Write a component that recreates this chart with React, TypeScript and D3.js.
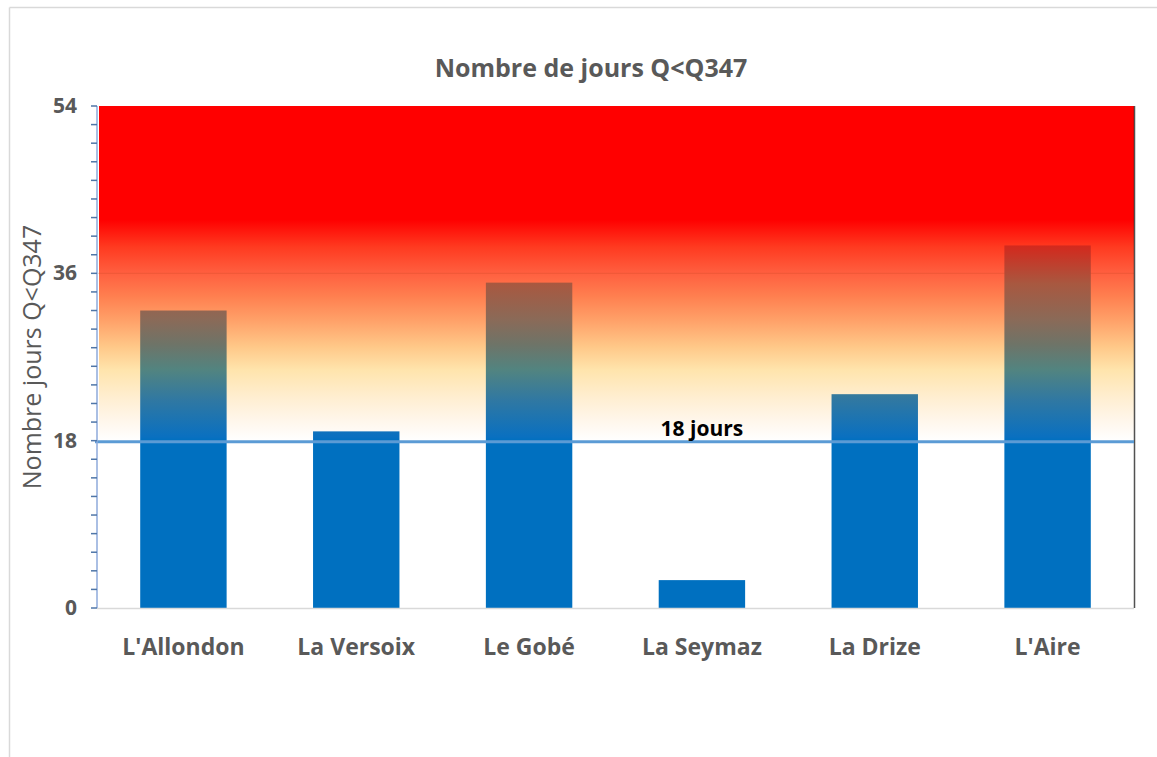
import React from "react";
import * as d3 from "d3";

const categories = ["L'Allondon", "La Versoix", "Le Gobé", "La Seymaz", "La Drize", "L'Aire"];
const values = [32, 19, 35, 3, 23, 39];
const yTicks = [0, 18, 36, 54];
const limitValue = 18;
const limitLabel = "18 jours";
const limitLabelIndex = 3;
const title = "Nombre de jours Q<Q347";
const yTitle = "Nombre jours Q<Q347";

// gradient stops (offset from 54 -> 18)
const bgStops: [number, string][] = [
  [0, "#FF0000"],
  [0.34, "#FF0000"],
  [0.421, "#FF3A20"],
  [0.501, "#FF6040"],
  [0.57, "#FF8050"],
  [0.639, "#FFA068"],
  [0.719, "#FFC888"],
  [0.788, "#FFE4AC"],
  [0.869, "#FFEED0"],
  [0.937, "#FFF6EA"],
  [1, "#FFFFFF"],
];
const barStops: [number, string][] = [
  [0, "#FF0000"],
  [0.3, "#EE1010"],
  [0.421, "#D22A1E"],
  [0.531, "#A85840"],
  [0.639, "#8A6A58"],
  [0.713, "#6E7468"],
  [0.788, "#528480"],
  [0.878, "#3078A2"],
  [0.988, "#0A70C0"],
  [1, "#0070C0"],
];

const W = 1157;
const H = 757;
const left = 97;
const right = 1134;
const top = 106;
const bottom = 608;

export default function App() {
  const x = d3
    .scaleBand<string>()
    .domain(categories)
    .range([left, right])
    .paddingInner(0.5)
    .paddingOuter(0.25);
  const y = d3.scaleLinear().domain([0, 54]).range([bottom, top]);
  const minor = d3.range(0, 55, 2);
  const font = "'Open Sans', 'DejaVu Sans', sans-serif";
  const grey = "#595959";

  return (
    <svg
      width={W}
      height={H}
      style={{ position: "absolute", left: 0, top: 0, background: "#fff" }}
      fontFamily={font}
    >
      <defs>
        <linearGradient id="bg" gradientUnits="userSpaceOnUse" x1={0} x2={0} y1={y(54)} y2={y(limitValue)}>
          {bgStops.map(([o, c], i) => (
            <stop key={i} offset={o} stopColor={c} />
          ))}
        </linearGradient>
        <linearGradient id="bar" gradientUnits="userSpaceOnUse" x1={0} x2={0} y1={y(54)} y2={y(limitValue)}>
          {barStops.map(([o, c], i) => (
            <stop key={i} offset={o} stopColor={c} />
          ))}
        </linearGradient>
      </defs>
      {/* frame */}
      <line x1={9.5} x2={W} y1={7.5} y2={7.5} stroke="#D9D9D9" strokeWidth={1.5} />
      <line x1={9.5} x2={9.5} y1={7.5} y2={H} stroke="#D9D9D9" strokeWidth={1.5} />

      {/* title */}
      <text x={591} y={77} textAnchor="middle" fontSize={25} fontWeight="bold" fill={grey}>
        {title}
      </text>

      {/* background zone */}
      <rect x={left + 2} y={y(54)} width={right - left - 2} height={y(limitValue) - y(54)} fill="url(#bg)" />
      {/* gridline at 36 */}
      <line x1={left} x2={right} y1={y(36)} y2={y(36)} stroke="#C04020" strokeOpacity={0.25} strokeWidth={1} />

      {/* bars */}
      {values.map((v, i) => (
        <rect
          key={categories[i]}
          x={x(categories[i])}
          y={y(v)}
          width={x.bandwidth()}
          height={y(0) - y(v)}
          fill="url(#bar)"
        />
      ))}

      {/* x axis line */}
      <line x1={left} x2={right} y1={bottom + 0.5} y2={bottom + 0.5} stroke="#D9D9D9" strokeWidth={1.5} />
      {/* right edge */}
      <line x1={right + 0.5} x2={right + 0.5} y1={top} y2={bottom} stroke="#262626" strokeOpacity={0.8} strokeWidth={1.5} />

      {/* limit line */}
      <line x1={left - 2} x2={right} y1={y(limitValue) + 1} y2={y(limitValue) + 1} stroke="#5B9BD5" strokeWidth={3} />
      <text
        x={(x(categories[limitLabelIndex]) as number) + x.bandwidth() / 2}
        y={y(limitValue) - 5}
        textAnchor="middle"
        fontSize={21}
        fontWeight="bold"
        fill="#000"
      >
        {limitLabel}
      </text>

      {/* y axis */}
      <line x1={left} x2={left} y1={top} y2={bottom} stroke="#8EAADB" strokeWidth={1.5} />
      {minor.map((t) => (
        <line key={t} x1={left - 6} x2={left} y1={y(t)} y2={y(t)} stroke="#4F76A8" strokeWidth={1.5} />
      ))}
      {yTicks.map((t) => (
        <text key={t} x={77} y={y(t) + 7} textAnchor="end" fontSize={21} fontWeight="bold" fill={grey}>
          {t}
        </text>
      ))}
      <text transform={`translate(41, 357) rotate(-90)`} textAnchor="middle" fontSize={25} fill={grey}>
        {yTitle}
      </text>

      {/* x labels */}
      {categories.map((c) => (
        <text
          key={c}
          x={(x(c) as number) + x.bandwidth() / 2}
          y={655}
          textAnchor="middle"
          fontSize={23}
          fontWeight="bold"
          fill={grey}
        >
          {c}
        </text>
      ))}
    </svg>
  );
}
